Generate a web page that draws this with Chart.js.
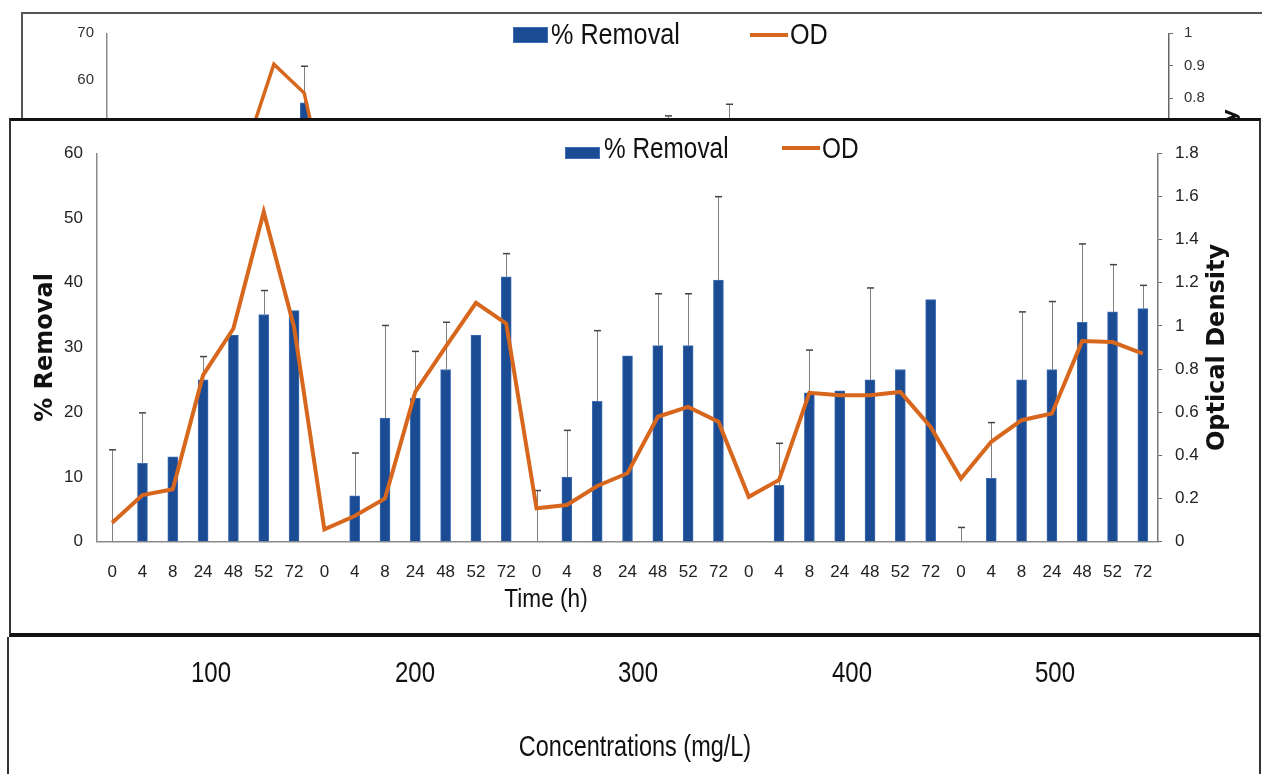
<!DOCTYPE html>
<html>
<head>
<meta charset="utf-8">
<script src="https://cdn.jsdelivr.net/npm/chart.js@4.4.1/dist/chart.umd.min.js"></script>
<style>
  body { margin: 0; background: #fff; }
  #page { position: relative; width: 1262px; height: 774px; overflow: hidden; background: #fff;
          font-family: "Liberation Sans Narrow", "Arial Narrow", "Liberation Sans", sans-serif; color: #111; }
  .abs { position: absolute; }
  #bgWrap { left: 0; top: 0; width: 1262px; height: 400px; z-index: 1; }
  #topFrame { left: 21px; top: 12px; width: 1300px; height: 300px; border-left: 2px solid #555; border-top: 2px solid #555; z-index: 2; }
  #mainBox { left: 9px; top: 118px; width: 1248px; height: 512px; background: #fff; z-index: 3;
             border-top: 3px solid #111; border-bottom: 4px solid #111; border-left: 2px solid #333; border-right: 2px solid #333; }
  #bottomBox { left: 7px; top: 637px; width: 1250px; height: 200px; background: #fff; z-index: 3;
               border-left: 2px solid #333; border-right: 2px solid #333; }
  #mainWrap { left: 0; top: 121px; width: 1262px; height: 510px; z-index: 4; }
  .txt { position: absolute; white-space: nowrap; z-index: 5; }
  .box { position: absolute; z-index: 5; }
</style>
</head>
<body>
<div id="page">
  <div id="bgWrap" class="abs"><canvas id="bgChart"></canvas></div>
  <div id="topFrame" class="abs"></div>
  <div id="mainBox" class="abs"></div>
  <div id="bottomBox" class="abs"></div>
  <div id="mainWrap" class="abs"><canvas id="mainChart"></canvas></div>
</div>
<script>
// time points repeated for every concentration
const hours = ['0', '4', '8', '24', '48', '52', '72'];
const concentrations = ['100', '200', '300', '400', '500'];
const timeLabels = concentrations.flatMap(() => hours);

// main chart
const removal = [0, 12.1, 13.1, 25.0, 31.9, 35.1, 35.7,
                 0, 7.1, 19.1, 22.2, 26.6, 31.9, 40.9,
                 0, 10.0, 21.7, 28.7, 30.3, 30.3, 40.4,
                 0, 8.7, 23.0, 23.3, 25.0, 26.6, 37.4,
                 0, 9.8, 25.0, 26.6, 33.9, 35.5, 36.0];
// top of each error bar (null = none drawn)
const removalErrTop = [14.2, 19.9, null, 28.6, null, 38.8, null,
                       null, 13.7, 33.4, 29.4, 33.9, null, 44.5,
                       7.9, 17.2, 32.6, null, 38.3, 38.3, 53.3,
                       null, 15.2, 29.6, null, 39.2, null, null,
                       2.2, 18.4, 35.5, 37.1, 46.0, 42.8, 39.6];
const od = [0.088, 0.216, 0.243, 0.772, 0.988, 1.528, 0.995,
            0.057, 0.119, 0.200, 0.694, 0.903, 1.107, 1.011,
            0.155, 0.170, 0.258, 0.317, 0.579, 0.625, 0.556,
            0.208, 0.286, 0.690, 0.679, 0.679, 0.694, 0.532,
            0.293, 0.463, 0.563, 0.594, 0.930, 0.925, 0.872];

// chart behind (only its top strip shows)
const bgRemoval = [null, null, null, null, 51.5, null, 55.0,
                   null, null, null, null, null, null, null,
                   null, null, null, null, null, null, null,
                   null, null, null, null, null, null, null,
                   null, null, null, null, null, null, null];
const bgErrTop = [null, null, null, null, null, null, 62.9,
                  null, null, null, null, null, null, null,
                  null, null, null, null, 52.2, null, 54.7,
                  null, null, null, null, null, null, null,
                  null, null, null, null, null, null, null];
const bgOd = [null, null, null, null, 0.622, 0.905, 0.816,
              0.40, null, null, null, null, null, null,
              null, null, null, null, null, null, null,
              null, null, null, null, null, null, null,
              null, null, null, null, null, null, null];

const BLUE = '#1a4b93';
const BLUE_EDGE = '#3d6fb8';
const ORANGE = '#d8671e';
const NARROW = '"Liberation Sans Narrow", "Arial Narrow", "Liberation Sans", sans-serif';
const WIDE = '"DejaVu Sans", Verdana, sans-serif';

const errorBars = {
  id: 'errorBars',
  afterDatasetDraw(chart, args, opts) {
    if (args.index !== 0 || !opts.tops) return;
    const ctx = chart.ctx, xs = chart.scales.x, ys = chart.scales.y;
    const vals = chart.data.datasets[0].data;
    ctx.save();
    opts.tops.forEach((top, i) => {
      if (top == null) return;
      const x = Math.round(xs.getPixelForValue(i)) + 0.5;
      const y0 = ys.getPixelForValue(vals[i] ?? 0);
      const y1 = ys.getPixelForValue(top);
      ctx.strokeStyle = '#808080';
      ctx.lineWidth = 1;
      ctx.beginPath(); ctx.moveTo(x, y0); ctx.lineTo(x, y1); ctx.stroke();
      ctx.strokeStyle = '#444';
      ctx.lineWidth = 1.5;
      ctx.beginPath(); ctx.moveTo(x - 3.5, y1); ctx.lineTo(x + 3.5, y1); ctx.stroke();
    });
    ctx.restore();
  }
};

// rotated title on the right side, reading bottom to top
const rightTitle = {
  id: 'rightTitle',
  afterDraw(chart, args, opts) {
    if (!opts.text) return;
    const ctx = chart.ctx, a = chart.chartArea;
    ctx.save();
    ctx.translate(a.right + opts.offset, (a.top + a.bottom) / 2);
    ctx.rotate(-Math.PI / 2);
    ctx.font = opts.font;
    ctx.fillStyle = '#111';
    ctx.textAlign = 'center';
    ctx.textBaseline = 'middle';
    ctx.fillText(opts.text, 0, 0);
    ctx.restore();
  }
};

function fixed(size) {
  return scale => {
    if (scale.isHorizontal()) scale.height = size; else scale.width = size;
  };
}
const plainNumber = v => String(+Number(v).toFixed(2));

new Chart(document.getElementById('bgChart'), {
  type: 'bar',
  data: {
    labels: timeLabels,
    datasets: [
      { label: '% Removal', data: bgRemoval, backgroundColor: BLUE, borderColor: BLUE_EDGE,
        borderWidth: 1, barThickness: 8, yAxisID: 'y', order: 1 },
      { type: 'line', label: 'OD', data: bgOd, borderColor: ORANGE, borderWidth: 3.5,
        pointRadius: 0, tension: 0, yAxisID: 'y2', order: 0 }
    ]
  },
  options: {
    responsive: true, maintainAspectRatio: false, animation: false,
    layout: { padding: { top: 33.3, left: 0, right: 0, bottom: 0 } },
    plugins: {
      legend: { display: false }, tooltip: { enabled: false },
      errorBars: { tops: bgErrTop },
      rightTitle: { text: 'Optical Density', offset: 62, font: 'bold 20px ' + WIDE }
    },
    scales: {
      x: { afterFit: fixed(42), grid: { display: false }, border: { display: false }, ticks: { display: false } },
      y: { position: 'left', min: 0, max: 70, afterFit: fixed(107),
           grid: { drawOnChartArea: false, drawTicks: false },
           border: { color: '#8a8a8a', width: 1.5 },
           ticks: { stepSize: 10, padding: 13, color: '#333', font: { family: NARROW, size: 15 } } },
      y2: { position: 'right', min: 0, max: 1, afterFit: fixed(93),
            grid: { drawOnChartArea: false, tickLength: 4, color: '#666' },
            border: { color: '#666', width: 1.5 },
            ticks: { stepSize: 0.1, padding: 11, color: '#333', callback: plainNumber,
                     font: { family: NARROW, size: 15 } } }
    }
  },
  plugins: [errorBars, rightTitle]
});

new Chart(document.getElementById('mainChart'), {
  type: 'bar',
  data: {
    labels: timeLabels,
    datasets: [
      { label: '% Removal', data: removal, backgroundColor: BLUE, borderColor: BLUE_EDGE,
        borderWidth: 1, barThickness: 10, yAxisID: 'y', order: 1 },
      { type: 'line', label: 'OD', data: od, borderColor: ORANGE, borderWidth: 4,
        pointRadius: 0, tension: 0, yAxisID: 'y2', order: 0 }
    ]
  },
  options: {
    responsive: true, maintainAspectRatio: false, animation: false,
    layout: { padding: { top: 32.3, left: 0, right: 0, bottom: 0 } },
    plugins: {
      legend: { display: false }, tooltip: { enabled: false },
      errorBars: { tops: removalErrTop },
      rightTitle: { text: 'Optical Density', offset: 60, font: 'bold 24px ' + WIDE }
    },
    scales: {
      x: { afterFit: fixed(89.3), grid: { display: false, drawTicks: false },
           border: { color: '#8a8a8a', width: 1.5 },
           ticks: { padding: 20, color: '#222', autoSkip: false, maxRotation: 0,
                    font: { family: NARROW, size: 17 } } },
      y: { position: 'left', min: 0, max: 60, afterFit: fixed(97),
           grid: { drawOnChartArea: false, drawTicks: false },
           border: { color: '#8a8a8a', width: 1.5 },
           ticks: { stepSize: 10, padding: 14, color: '#222', font: { family: NARROW, size: 17 } },
           title: { display: true, text: '% Removal', color: '#111', padding: { top: 31, bottom: 0 },
                    font: { family: WIDE, size: 24, weight: 'bold' } } },
      y2: { position: 'right', min: 0, max: 1.8, afterFit: fixed(104),
            grid: { drawOnChartArea: false, tickLength: 4, color: '#666' },
            border: { color: '#777', width: 1.5 },
            ticks: { stepSize: 0.2, padding: 13, color: '#222', callback: plainNumber,
                     font: { family: NARROW, size: 17 } } }
    }
  },
  plugins: [errorBars, rightTitle]
});

// legends, x title and concentration row as page text (squeezed to the narrow look of the original)
const page = document.getElementById('page');
function addText(text, left, top, size, extra) {
  const d = document.createElement('div');
  d.className = 'txt';
  d.textContent = text;
  d.style.left = left + 'px';
  d.style.top = top + 'px';
  d.style.fontSize = size + 'px';
  d.style.lineHeight = size + 'px';
  Object.assign(d.style, extra || {});
  page.appendChild(d);
  return d;
}
function addBox(left, top, w, h, css) {
  const d = document.createElement('div');
  d.className = 'box';
  Object.assign(d.style, { left: left + 'px', top: top + 'px', width: w + 'px', height: h + 'px' }, css);
  page.appendChild(d);
}
const squeezeLeft = { transform: 'scaleX(0.84)', transformOrigin: '0 0' };
function addLegend(o) {
  addBox(o.boxX, o.boxY, 35, o.boxH, { background: BLUE, boxShadow: 'inset 0 0 0 1px ' + BLUE_EDGE, zIndex: o.z });
  addText('% Removal', o.textX, o.top, o.size, Object.assign({ zIndex: o.z }, squeezeLeft));
  addBox(o.lineX, o.lineY - 2, 38, 4, { background: ORANGE, zIndex: o.z });
  addText('OD', o.odX, o.top, o.size, Object.assign({ zIndex: o.z }, squeezeLeft));
}
addLegend({ boxX: 513, boxY: 27, boxH: 16, textX: 551, lineX: 750, lineY: 35, odX: 790, top: 19, size: 30, z: 2 });
addLegend({ boxX: 565, boxY: 147, boxH: 12, textX: 604, lineX: 782, lineY: 148, odX: 822, top: 134, size: 29, z: 5 });

addText('Time (h)', 446, 585, 26, { width: '200px', textAlign: 'center', transform: 'scaleX(0.87)' });

const concCenters = [211, 415, 638, 852, 1055];
concentrations.forEach((c, i) => addText(c, concCenters[i] - 50, 657, 30,
  { width: '100px', textAlign: 'center', transform: 'scaleX(0.8)' }));
addText('Concentrations (mg/L)', 435, 732, 29, { width: '400px', textAlign: 'center', transform: 'scaleX(0.81)' });
</script>
</body>
</html>
